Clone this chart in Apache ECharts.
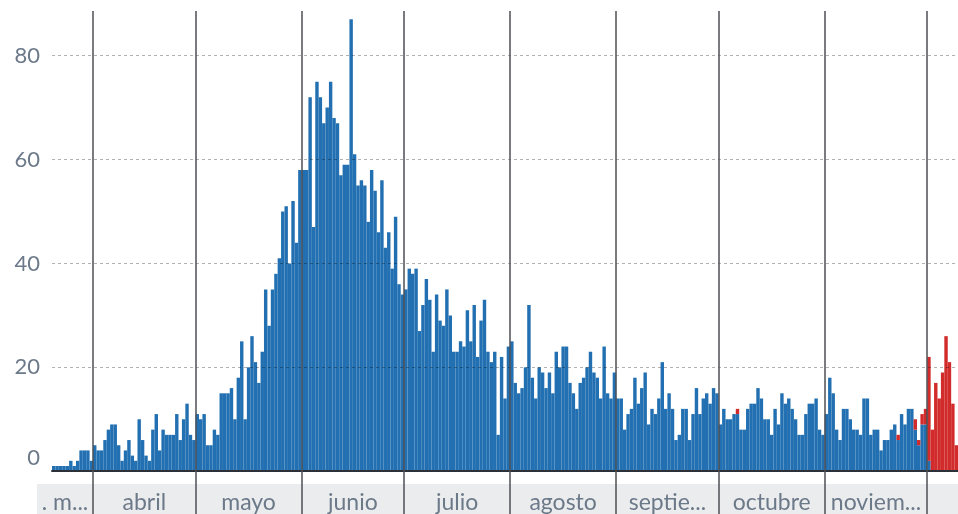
<!DOCTYPE html>
<html>
<head>
<meta charset="utf-8">
<script src="https://cdn.jsdelivr.net/npm/echarts@6/dist/echarts.min.js"></script>
<style>
html,body{margin:0;padding:0;background:#ffffff;}
#c{width:958px;height:514px;}
</style>
</head>
<body>
<div id="c"></div>
<script>
// Month labels (as shown, truncated) and visible days per month
const etiquetasMes = ['. m...', 'abril', 'mayo', 'junio', 'julio', 'agosto', 'septie...', 'octubre', 'noviem...', ''];
const numeroMes = [3, 4, 5, 6, 7, 8, 9, 10, 11, 12];
const primerDia = [20, 1, 1, 1, 1, 1, 1, 1, 1, 1];

// Daily values (blue)
const azulMarzo = [1,1,1,1,1,2,1,2,4,4,4,2];
const azulAbril = [5,4,4,6,8,9,9,5,2,4,6,3,2,10,6,3,2,8,11,4,8,7,7,7,11,6,10,13,7,6];
const azulMayo = [11,10,11,5,5,8,7,15,15,15,16,10,18,25,10,20,26,21,17,23,35,28,35,38,41,50,51,40,52,44,58];
const azulJunio = [58,58,72,47,75,72,67,70,75,68,67,57,59,59,87,61,55,56,55,48,58,54,46,56,43,46,39,49,36,34];
const azulJulio = [35,39,38,39,27,32,37,33,23,34,29,28,35,30,23,23,25,24,31,25,32,22,29,33,23,21,23,7,22,14,24];
const azulAgosto = [25,17,15,16,20,32,18,14,20,19,16,19,15,23,20,24,24,17,15,12,17,18,20,23,19,18,14,24,15,14,19];
const azulSeptiembre = [14,14,8,11,12,18,13,16,19,9,12,11,14,21,12,15,12,6,7,12,12,6,11,16,11,14,15,13,16,15];
const azulOctubre = [9,12,10,10,11,11,8,8,12,13,13,16,14,10,10,7,12,9,15,13,14,12,10,7,7,11,13,13,14,8,7];
const azulNoviembre = [11,18,15,8,6,12,12,10,8,8,7,14,14,7,8,8,4,6,6,8,9,6,11,9,12,12,8,5,9,9];
const azulDiciembre = [2,0,0,0,0,0,0,0,0];

// Red (stacked on top) values
const rojoFechas = ['10-6','11-22','11-27','11-28','11-29','11-30','12-1','12-2','12-3','12-4','12-5','12-6','12-7','12-8','12-9'];
const rojoValores = [1,1,2,1,2,3,20,8,17,14,19,26,21,13,5];

// Y ticks
const yTicks = [0, 20, 40, 60, 80];

const azulPorMes = [azulMarzo, azulAbril, azulMayo, azulJunio, azulJulio, azulAgosto, azulSeptiembre, azulOctubre, azulNoviembre, azulDiciembre];
const dias = [];
const azul = [];
const inicios = [];
azulPorMes.forEach(function (arr, m) {
  inicios.push(dias.length);
  arr.forEach(function (v, i) {
    dias.push(numeroMes[m] + '-' + (primerDia[m] + i));
    azul.push(v);
  });
});
const N = dias.length;
const rojo = dias.map(function (d) {
  const k = rojoFechas.indexOf(d);
  return k >= 0 ? rojoValores[k] : null;
});

// layout
const L0 = 52, LB = 37, W = 958;
const pxPorDia = (W - L0) / N;
const bandMin = -(L0 - LB) / pxPorDia;

const centros = inicios.map(function (s, m) {
  const a = m === 0 ? bandMin : s;
  const b = m + 1 < inicios.length ? inicios[m + 1] : N;
  return (a + b) / 2;
});
const limites = inicios.slice(1);

const gris = '#6c7989';
const fuente = 'Lato';

const chart = echarts.init(document.getElementById('c'), null, { renderer: 'canvas' });
chart.setOption({
  animation: false,
  grid: [
    { left: L0, right: 0, top: 11, bottom: 42.8 },
    { left: LB, right: 0, top: 484, bottom: 0, show: true, backgroundColor: '#ebecee', borderWidth: 0 },
    { left: L0, right: 0, top: 11, bottom: 0 }
  ],
  xAxis: [
    {
      type: 'category', gridIndex: 0, data: dias, z: 4,
      axisLine: { lineStyle: { color: '#2b3039', width: 2 } },
      axisTick: { show: false }, axisLabel: { show: false }, splitLine: { show: false }
    },
    {
      type: 'value', gridIndex: 1, min: bandMin, max: N,
      axisLine: { show: false }, axisTick: { show: false }, splitLine: { show: false },
      axisLabel: {
        customValues: centros, inside: true, margin: 0,
        fontSize: 23, color: gris, fontFamily: fuente,
        formatter: function (v) {
          let best = 0, d = Infinity;
          centros.forEach(function (c, i) { if (Math.abs(c - v) < d) { d = Math.abs(c - v); best = i; } });
          return etiquetasMes[best];
        }
      }
    },
    { type: 'value', gridIndex: 2, min: 0, max: N, show: false }
  ],
  yAxis: [
    {
      type: 'value', gridIndex: 0, min: 0, max: 88.6, interval: 20, z: 3,
      axisLine: { show: false }, axisTick: { show: false },
      splitLine: { show: true, showMinLine: false, showMaxLine: false, lineStyle: { color: 'rgba(0,0,0,0.3)', width: 1, type: [3, 3] } },
      axisLabel: {
        margin: 12, fontSize: 22, color: gris, fontFamily: fuente,
        customValues: yTicks,
        formatter: function (v) { return v === 0 ? '{z|0}' : String(v); },
        rich: { z: { fontSize: 22, color: gris, fontFamily: fuente, padding: [0, 0, 26, 0] } }
      }
    },
    { type: 'value', gridIndex: 1, show: false },
    { type: 'value', gridIndex: 2, min: 0, max: 1, show: false }
  ],
  series: [
    {
      type: 'bar', name: 'azul', stack: 'total', xAxisIndex: 0, yAxisIndex: 0,
      data: azul, barCategoryGap: '0%', itemStyle: { color: '#2270b1' }, silent: true
    },
    {
      type: 'bar', name: 'rojo', stack: 'total', xAxisIndex: 0, yAxisIndex: 0,
      data: rojo, barCategoryGap: '0%', itemStyle: { color: '#d12b2b' }, silent: true
    },
    {
      type: 'line', xAxisIndex: 2, yAxisIndex: 2, data: [[0, 0], [N, 0]],
      showSymbol: false, lineStyle: { opacity: 0 }, silent: true, z: 10,
      markLine: {
        silent: true, symbol: 'none', label: { show: false },
        lineStyle: { color: '#4d4f55', width: 1.5, type: 'solid' },
        data: limites.map(function (x) { return { xAxis: x }; })
      }
    }
  ]
});
</script>
</body>
</html>
